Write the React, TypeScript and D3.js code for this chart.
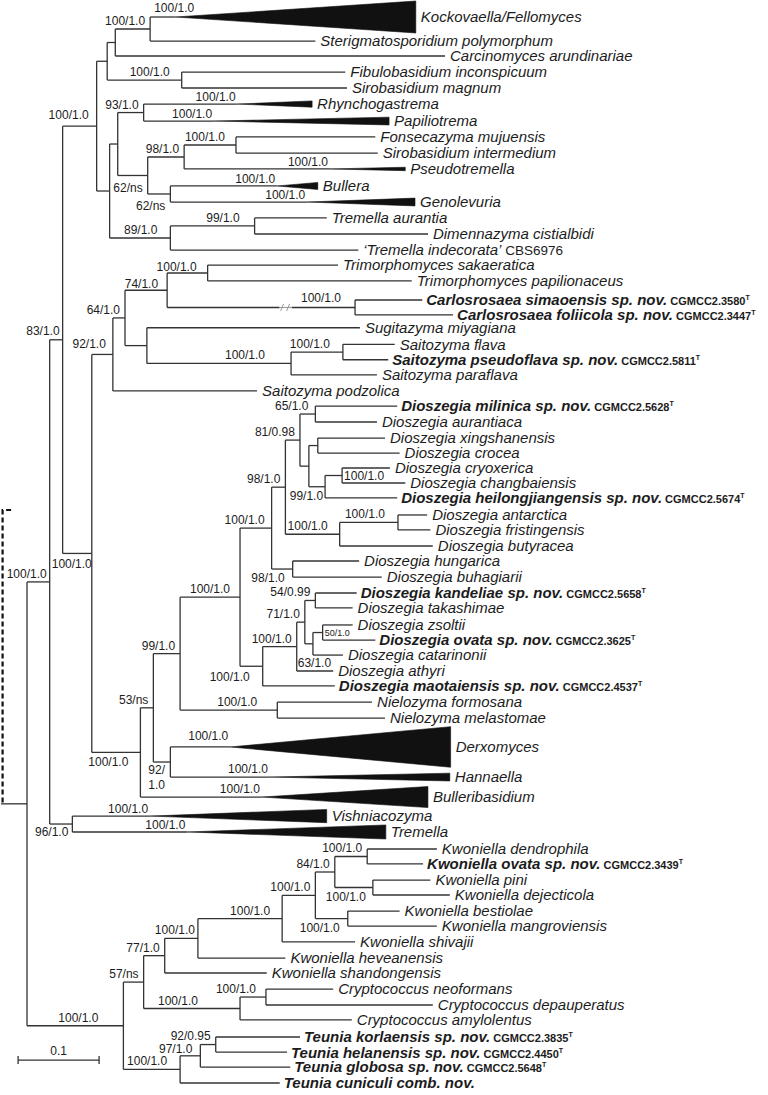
import React from 'react';
import * as d3 from 'd3';

// ---------- DATA ----------
// internal nodes: [id, parent, depth (substitutions/site from root)]
const internalNodes: [string, string | null, number][] = [
  ['R', null, 0], ['A', 'R', 0.028], ['B', 'A', 0.044], ['C', 'B', 0.086], ['D', 'C', 0.099],
  ['E', 'D', 0.109], ['F', 'E', 0.152], ['G', 'D', 0.191], ['H', 'C', 0.102], ['I', 'H', 0.112],
  ['J', 'I', 0.144], ['K', 'I', 0.149], ['L', 'K', 0.194], ['M', 'L', 0.258], ['N', 'K', 0.177],
  ['O', 'H', 0.177], ['P', 'O', 0.281], ['Q', 'B', 0.080], ['S', 'Q', 0.106], ['T', 'S', 0.121],
  ['U', 'T', 0.173], ['V', 'U', 0.223], ['W', 'U', 0.405], ['X', 'T', 0.148], ['Y', 'X', 0.326],
  ['Z', 'Y', 0.390], ['AA', 'Q', 0.140], ['AB', 'AA', 0.156], ['AC', 'AB', 0.189], ['AD', 'AC', 0.263],
  ['AE', 'AD', 0.302], ['AF', 'AE', 0.319], ['AG', 'AF', 0.337], ['AH', 'AG', 0.356], ['AI', 'AG', 0.348],
  ['AJ', 'AI', 0.359], ['AK', 'AI', 0.368], ['AL', 'AK', 0.389], ['AM', 'AF', 0.386], ['AN', 'AM', 0.458],
  ['AO', 'AE', 0.328], ['AP', 'AD', 0.291], ['AQ', 'AP', 0.333], ['AR', 'AQ', 0.343], ['AS', 'AR', 0.356],
  ['AT', 'AR', 0.353], ['AU', 'AT', 0.365], ['AV', 'AC', 0.309], ['AW', 'AB', 0.177], ['AX', 'A', 0.056],
  ['BA', 'R', 0.119], ['BB', 'BA', 0.144], ['BC', 'BB', 0.170], ['BD', 'BC', 0.211], ['BE', 'BD', 0.315],
  ['BF', 'BE', 0.356], ['BG', 'BF', 0.380], ['BH', 'BG', 0.420], ['BI', 'BG', 0.427], ['BJ', 'BF', 0.396],
  ['BK', 'BB', 0.263], ['BL', 'BK', 0.295], ['BM', 'BA', 0.189], ['BN', 'BM', 0.214], ['BO', 'BN', 0.233],
];

// tips: [name, parent, depth, row]
const tips: [string, string, number, number][] = [
  ['Kockovaella/Fellomyces', 'F', 0.480, 0],
  ['Sterigmatosporidium polymorphum', 'F', 0.356, 1.54],
  ['Carcinomyces arundinariae', 'E', 0.516, 2.5],
  ['Fibulobasidium inconspicuum', 'G', 0.393, 3.53],
  ['Sirobasidium magnum', 'G', 0.395, 4.55],
  ['Rhynchogastrema', 'J', 0.352, 5.58],
  ['Papiliotrema', 'J', 0.447, 6.67],
  ['Fonsecazyma mujuensis', 'M', 0.430, 7.69],
  ['Sirobasidium intermedium', 'M', 0.433, 8.72],
  ['Pseudotremella', 'L', 0.467, 9.74],
  ['Bullera', 'N', 0.359, 10.83],
  ['Genolevuria', 'N', 0.479, 11.86],
  ['Tremella aurantia', 'P', 0.370, 12.88],
  ['Dimennazyma cistialbidi', 'P', 0.495, 13.91],
  ['‘Tremella indecorata’', 'O', 0.409, 14.94],
  ['Trimorphomyces sakaeratica', 'V', 0.384, 15.9],
  ['Trimorphomyces papilionaceus', 'V', 0.475, 16.92],
  ['Carlosrosaea simaoensis sp. nov.', 'W', 0.488, 18.14],
  ['Carlosrosaea foliicola sp. nov.', 'W', 0.526, 19.1],
  ['Sugitazyma miyagiana', 'X', 0.411, 19.92],
  ['Saitozyma flava', 'Z', 0.454, 20.98],
  ['Saitozyma pseudoflava sp. nov.', 'Z', 0.446, 21.97],
  ['Saitozyma paraflava', 'Y', 0.432, 22.94],
  ['Saitozyma podzolica', 'S', 0.284, 23.97],
  ['Dioszegia milinica sp. nov.', 'AH', 0.457, 24.94],
  ['Dioszegia aurantiaca', 'AH', 0.432, 25.96],
  ['Dioszegia xingshanensis', 'AJ', 0.442, 26.99],
  ['Dioszegia crocea', 'AJ', 0.460, 27.95],
  ['Dioszegia cryoxerica', 'AL', 0.448, 28.91],
  ['Dioszegia changbaiensis', 'AL', 0.467, 29.87],
  ['Dioszegia heilongjiangensis sp. nov.', 'AK', 0.457, 30.83],
  ['Dioszegia antarctica', 'AN', 0.494, 31.92],
  ['Dioszegia fristingensis', 'AN', 0.498, 32.88],
  ['Dioszegia butyracea', 'AM', 0.501, 33.91],
  ['Dioszegia hungarica', 'AO', 0.410, 34.87],
  ['Dioszegia buhagiarii', 'AO', 0.438, 35.9],
  ['Dioszegia kandeliae sp. nov.', 'AS', 0.407, 36.92],
  ['Dioszegia takashimae', 'AS', 0.402, 37.88],
  ['Dioszegia zsoltii', 'AU', 0.402, 38.97],
  ['Dioszegia ovata sp. nov.', 'AU', 0.430, 39.94],
  ['Dioszegia catarinonii', 'AT', 0.390, 40.9],
  ['Dioszegia athyri', 'AQ', 0.378, 41.92],
  ['Dioszegia maotaiensis sp. nov.', 'AP', 0.380, 42.88],
  ['Nielozyma formosana', 'AV', 0.426, 43.91],
  ['Nielozyma melastomae', 'AV', 0.442, 44.94],
  ['Derxomyces', 'AW', 0.523, 46.79],
  ['Hannaella', 'AW', 0.522, 48.72],
  ['Bulleribasidium', 'AA', 0.495, 50],
  ['Vishniacozyma', 'AX', 0.370, 51.22],
  ['Tremella', 'AX', 0.443, 52.24],
  ['Kwoniella dendrophila', 'BH', 0.506, 53.33],
  ['Kwoniella ovata sp. nov.', 'BH', 0.489, 54.29],
  ['Kwoniella pini', 'BI', 0.498, 55.32],
  ['Kwoniella dejecticola', 'BI', 0.522, 56.28],
  ['Kwoniella bestiolae', 'BJ', 0.460, 57.31],
  ['Kwoniella mangroviensis', 'BJ', 0.506, 58.27],
  ['Kwoniella shivajii', 'BE', 0.405, 59.29],
  ['Kwoniella heveanensis', 'BD', 0.319, 60.32],
  ['Kwoniella shandongensis', 'BC', 0.296, 61.28],
  ['Cryptococcus neoformans', 'BL', 0.378, 62.31],
  ['Cryptococcus depauperatus', 'BL', 0.501, 63.33],
  ['Cryptococcus amylolentus', 'BK', 0.401, 64.29],
  ['Teunia korlaensis sp. nov.', 'BO', 0.337, 65.38],
  ['Teunia helanensis sp. nov.', 'BO', 0.321, 66.35],
  ['Teunia globosa sp. nov.', 'BN', 0.325, 67.31],
  ['Teunia cuniculi comb. nov.', 'BM', 0.312, 68.33],
];

// collapsed clades: [tip, depth where the wedge starts, spread in rows]
const collapsed: [string, number, number][] = [
  ['Kockovaella/Fellomyces', 0.183, 2.05],
  ['Rhynchogastrema', 0.260, 0.4],
  ['Papiliotrema', 0.231, 0.5],
  ['Pseudotremella', 0.374, 0.22],
  ['Bullera', 0.309, 0.45],
  ['Genolevuria', 0.346, 0.5],
  ['Derxomyces', 0.251, 2.6],
  ['Hannaella', 0.300, 0.5],
  ['Bulleribasidium', 0.290, 1.35],
  ['Vishniacozyma', 0.152, 0.85],
  ['Tremella', 0.198, 0.9],
];

// strain designations
const strains: [string, string][] = [
  ['Carlosrosaea simaoensis sp. nov.', 'CGMCC2.3580'],
  ['Carlosrosaea foliicola sp. nov.', 'CGMCC2.3447'],
  ['Saitozyma pseudoflava sp. nov.', 'CGMCC2.5811'],
  ['Dioszegia milinica sp. nov.', 'CGMCC2.5628'],
  ['Dioszegia heilongjiangensis sp. nov.', 'CGMCC2.5674'],
  ['Dioszegia kandeliae sp. nov.', 'CGMCC2.5658'],
  ['Dioszegia ovata sp. nov.', 'CGMCC2.3625'],
  ['Dioszegia maotaiensis sp. nov.', 'CGMCC2.4537'],
  ['Kwoniella ovata sp. nov.', 'CGMCC2.3439'],
  ['Teunia korlaensis sp. nov.', 'CGMCC2.3835'],
  ['Teunia helanensis sp. nov.', 'CGMCC2.4450'],
  ['Teunia globosa sp. nov.', 'CGMCC2.5648'],
];
const plainCollections: [string, string][] = [['‘Tremella indecorata’', 'CBS6976']];

// support values (bootstrap / posterior): [node, text, placement]
const supports: [string, string, string][] = [
  ['A', '100/1.0', 'a'], ['B', '83/1.0', 'a'], ['C', '100/1.0', 'a'], ['F', '100/1.0', 'a'],
  ['G', '100/1.0', 'a'], ['J', '93/1.0', 'a'], ['K', '62/ns', 'b'], ['L', '98/1.0', 'a'],
  ['M', '100/1.0', 'a'], ['N', '62/ns', 'b'], ['O', '89/1.0', 'a'], ['P', '99/1.0', 'a'],
  ['Q', '100/1.0', 'b'], ['S', '92/1.0', 'a'], ['T', '64/1.0', 'a'], ['U', '74/1.0', 'a'],
  ['V', '100/1.0', 'a'], ['W', '100/1.0', 'a'], ['Y', '100/1.0', 'a'], ['Z', '100/1.0', 'a'],
  ['AA', '100/1.0', 'b'], ['AB', '53/ns', 'a'], ['AC', '99/1.0', 'a'], ['AD', '100/1.0', 'a'],
  ['AE', '100/1.0', 'a'], ['AF', '98/1.0', 'a'], ['AG', '81/0.98', 'a'], ['AH', '65/1.0', 'a'],
  ['AK', '99/1.0', 'b'], ['AL', '100/1.0', 'r'], ['AM', '100/1.0', 'a'], ['AN', '100/1.0', 'a'],
  ['AO', '98/1.0', 'b'], ['AP', '100/1.0', 'b'], ['AQ', '100/1.0', 'a'], ['AQ', '63/1.0', 'rb'],
  ['AR', '71/1.0', 'a'], ['AS', '54/0.99', 'a'], ['AU', '50/1.0', 'rs'], ['AV', '100/1.0', 'a'],
  ['AW', '92/|1.0', 'b2'], ['AX', '96/1.0', 'b'], ['BA', '100/1.0', 'a'], ['BB', '57/ns', 'a'],
  ['BC', '77/1.0', 'a'], ['BD', '100/1.0', 'a'], ['BE', '100/1.0', 'a'], ['BF', '100/1.0', 'a'],
  ['BG', '84/1.0', 'a'], ['BH', '100/1.0', 'a'], ['BI', '100/1.0', 'b'], ['BJ', '100/1.0', 'b'],
  ['BK', '100/1.0', 'a'], ['BL', '100/1.0', 'a'], ['BM', '100/1.0', 'a'], ['BN', '97/1.0', 'a'],
  ['BO', '92/0.95', 'a'],
];
const cladeSupports: [string, string][] = collapsed.map(c => [c[0], '100/1.0']);

// branch with a break mark
const brokenBranch = { node: 'W', at: 0.318 };
const scaleBar = { length: 0.1, label: '0.1', start: -0.011, row: 66.86 };
const rootStem = { start: -0.032, dashTopRow: 31.6 };

// ---------- LAYOUT TWEAKS (px) ----------
const nudge: Record<string, [number, number]> = {
  A: [2, 0], B: [2, -1], C: [-3, -3], G: [-7, 0], M: [-6, 0], O: [-8, 0], P: [-10, 0],
  S: [-2, -2], U: [-4, 2], V: [-6, 2], W: [-9, -1], Y: [-21, 0], Z: [-8, 0], AD: [-5, 0],
  AE: [-2, 0], AH: [-2, 0], AM: [-7, 0], AN: [-8, 0], AV: [-15, 0], BA: [-20, 0], BD: [2, 0],
  BE: [-7, 0], BK: [-37, 0], BL: [-5, 0], BM: [-8, 0], BN: [-3, 1], BO: [0, -1],
  K: [0, 3], N: [0, 2], Q: [5, 1], AA: [-7, 0], AK: [3, -1], AO: [-3, -1], AP: [-8, 1], AX: [1, -2],
  BI: [-2, -1], BJ: [-3, -1],
};
const cladeNudge: Record<string, [number, number]> = {
  'Kockovaella/Fellomyces': [21, -2], Derxomyces: [0, -4], Hannaella: [0, -1], Bulleribasidium: [0, -1],
};

const FONT = '"Liberation Sans", Arial, Helvetica, sans-serif';
const INK = '#1c1c1c';
const LINE = '#333';

export default function App() {
  const x = d3.scaleLinear().domain([0, 1]).range([27, 837]);
  const y = d3.scaleLinear().domain([0, 68.33]).range([17, 1083]);

  type N = { id: string; parent: string | null; depth: number; children: string[]; tip: boolean; row?: number; y?: number };
  const nodes = new Map<string, N>();
  internalNodes.forEach(([id, p, d]) => nodes.set(id, { id, parent: p, depth: d, children: [], tip: false }));
  tips.forEach(([id, p, d, r]) => nodes.set(id, { id, parent: p, depth: d, children: [], tip: true, row: r }));
  nodes.forEach(n => { if (n.parent) nodes.get(n.parent)!.children.push(n.id); });
  const getY = (id: string): number => {
    const n = nodes.get(id)!;
    if (n.y !== undefined) return n.y;
    if (n.tip) n.y = y(n.row!);
    else {
      const ys = n.children.map(getY);
      n.y = ((d3.min(ys) as number) + (d3.max(ys) as number)) / 2;
    }
    return n.y;
  };
  nodes.forEach(n => getY(n.id));

  const collMap = new Map(collapsed.map(c => [c[0], c]));
  const strainMap = new Map(strains);
  const plainMap = new Map(plainCollections);

  const lines: JSX.Element[] = [];
  const wedges: JSX.Element[] = [];
  nodes.forEach(n => {
    if (n.parent) {
      const p = nodes.get(n.parent)!;
      const c = collMap.get(n.id);
      const endDepth = c ? c[1] : n.depth;
      lines.push(<line key={'h' + n.id} x1={x(p.depth)} x2={x(endDepth)} y1={n.y} y2={n.y} />);
      if (c) {
        const half = (y(c[2]) - y(0)) / 2;
        const path = `M${x(c[1])},${n.y}L${x(n.depth)},${n.y! - half}L${x(n.depth)},${n.y! + half}Z`;
        wedges.push(<path key={'w' + n.id} d={path} fill="#111" stroke="#111" strokeWidth={0.6} />);
      }
    }
    if (!n.tip) {
      const ys = n.children.map(c => nodes.get(c)!.y!);
      lines.push(<line key={'v' + n.id} x1={x(n.depth)} x2={x(n.depth)} y1={d3.min(ys)} y2={d3.max(ys)} />);
    }
  });

  const root = nodes.get('R')!;

  // tip labels
  const tipLabels = tips.map(([name]) => {
    const n = nodes.get(name)!;
    const bold = /nov\.$/.test(name);
    const strain = strainMap.get(name);
    const plain = plainMap.get(name);
    const gap = bold ? 4 : 5;
    return (
      <text key={'t' + name} x={x(n.depth) + gap} y={n.y! + 5.4} fontSize={15} fill={INK}
        fontStyle="italic" fontWeight={bold ? 'bold' : 'normal'}>
        {name}
        {strain && <tspan fontStyle="normal" fontSize={11} fontWeight="bold">{' ' + strain}</tspan>}
        {strain && <tspan fontStyle="normal" fontSize={7} fontWeight="bold" dy={-5}>T</tspan>}
        {plain && <tspan fontStyle="normal" fontSize={13.5}>{' ' + plain}</tspan>}
      </text>
    );
  });

  // support labels
  const supportLabels = supports.map(([id, text, place], i) => {
    const n = nodes.get(id)!;
    const nx = x(n.depth);
    const [dx, dy] = nudge[id] && (place === 'a' || place === 'b') ? nudge[id] : [0, 0];
    if (place === 'a') {
      return <text key={'s' + i} x={nx - 5 + dx} y={n.y! - 4 + dy} textAnchor="end" fontSize={12} fill={INK}>{text}</text>;
    }
    if (place === 'b') {
      return <text key={'s' + i} x={nx - 5 + dx} y={n.y! + 14 + dy} textAnchor="end" fontSize={12} fill={INK}>{text}</text>;
    }
    if (place === 'b2') {
      const [l1, l2] = text.split('|');
      return (
        <text key={'s' + i} x={nx - 22} y={n.y! + 12} fontSize={12} fill={INK}>
          <tspan>{l1}</tspan>
          <tspan x={nx - 22} dy={15}>{l2}</tspan>
        </text>
      );
    }
    if (place === 'r') {
      return <text key={'s' + i} x={nx + 2} y={n.y! + 4.5} fontSize={12} fill={INK}>{text}</text>;
    }
    if (place === 'rs') {
      return <text key={'s' + i} x={nx + 2} y={n.y! + 3.5} fontSize={9} fill={INK}>{text}</text>;
    }
    // 'rb': right of node, just above its last child
    const ys = n.children.map(c => nodes.get(c)!.y!);
    return <text key={'s' + i} x={nx + 1} y={(d3.max(ys) as number) - 4} fontSize={12} fill={INK}>{text}</text>;
  });

  const cladeLabels = cladeSupports.map(([id, text]) => {
    const n = nodes.get(id)!;
    const c = collMap.get(id)!;
    const [dx, dy] = cladeNudge[id] || [0, 0];
    return <text key={'c' + id} x={x(c[1]) - 2 + dx} y={n.y! - 3 + dy} textAnchor="end" fontSize={12} fill={INK}>{text}</text>;
  });

  // break mark
  const wNode = nodes.get(brokenBranch.node)!;
  const bx = x(brokenBranch.at);
  const by = wNode.y!;

  const sbY = y(scaleBar.row);
  const sb0 = x(scaleBar.start);
  const sb1 = x(scaleBar.start + scaleBar.length);

  return (
    <svg width={768} height={1095} viewBox="0 0 768 1095"
      style={{ position: 'absolute', left: 0, top: 0, background: '#fff' }} fontFamily={FONT}>
      <rect x={0} y={0} width={768} height={1095} fill="#fff" />
      <g stroke={LINE} strokeWidth={1.3} fill="none">
        {lines}
        <line x1={x(rootStem.start)} x2={x(0)} y1={root.y} y2={root.y} />
      </g>
      <path d={`M${x(rootStem.start) + 10},${y(rootStem.dashTopRow)}H${x(rootStem.start) + 1.5}V${root.y}`}
        fill="none" stroke="#111" strokeWidth={2.2} strokeDasharray="5,3" />
      {wedges}
      <rect x={bx - 5} y={by - 4} width={12} height={8} fill="#fff" />
      <g stroke="#999" strokeWidth={1}>
        <line x1={bx - 4} y1={by + 3.5} x2={bx - 1} y2={by - 3.5} />
        <line x1={bx + 2} y1={by + 3.5} x2={bx + 5} y2={by - 3.5} />
      </g>
      <line x1={bx - 5} x2={bx + 7} y1={by} y2={by} stroke="#999" strokeWidth={1.1} />
      {tipLabels}
      {supportLabels}
      {cladeLabels}
      <g stroke={LINE} strokeWidth={1.3}>
        <line x1={sb0} x2={sb1} y1={sbY} y2={sbY} />
        <line x1={sb0} x2={sb0} y1={sbY - 4} y2={sbY + 4} />
        <line x1={sb1} x2={sb1} y1={sbY - 4} y2={sbY + 4} />
      </g>
      <text x={(sb0 + sb1) / 2} y={sbY - 5} textAnchor="middle" fontSize={12} fill={INK}>{scaleBar.label}</text>
    </svg>
  );
}
